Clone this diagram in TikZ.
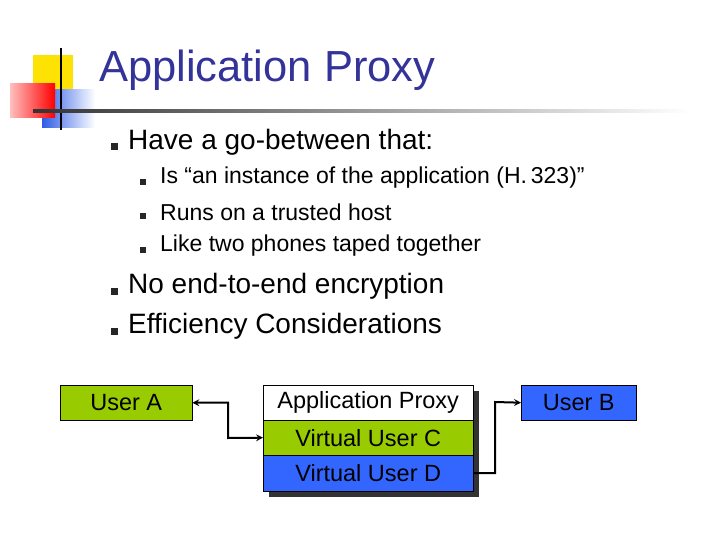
\documentclass[tikz,border=0pt]{standalone}
\usepackage{fontspec}
\setmainfont{Liberation Sans}
\usetikzlibrary{shadings}
\definecolor{titleblue}{RGB}{51,51,153}
\definecolor{boxgreen}{RGB}{153,204,0}
\definecolor{boxblue}{RGB}{51,102,255}
\tikzset{
  userbox/.style={draw=black,minimum width=#1,minimum height=35pt,inner sep=0pt,font=\fontsize{23.5}{26}\selectfont,anchor=north west},
  bul/.style={fill=black!85,minimum size=7pt,inner sep=0pt},
  bulsm/.style={fill=black!85,minimum size=6pt,inner sep=0pt},
  maintext/.style={anchor=west,inner sep=0pt,font=\fontsize{28}{32}\selectfont},
  subtext/.style={anchor=west,inner sep=0pt,font=\fontsize{23}{27}\selectfont},
}
\begin{document}
\begin{tikzpicture}[x=1pt,y=-1pt]
\useasboundingbox (0,0) rectangle (720,540);
% logo
\fill[yellow!85!orange] (33,55) rectangle (73,95);
\shade[left color=boxblue!90!black,right color=white] (42,90) rectangle (95,128);
\shade[left color=red!25,right color=red] (10,84) rectangle (55,118);
\draw[black,line width=1.5pt] (61,48) -- (61,130);
\shade[left color=black!80,right color=white] (33,110) rectangle (690,112.5);
% title
\node[anchor=base west,inner sep=0pt,text=titleblue,font=\fontsize{43.5}{48}\selectfont] (title) at (99,82) {Application Proxy};
% bullets
\node[bul] (b1) at (114,147) {};
\node[maintext] (t1) at (128,142) {Have a go-between that:};
\node[bulsm] (s1) at (143,182) {};
\node[subtext] (u1) at (160,178) {Is “an instance of the application (H.\,323)”};
\node[bulsm] (s2) at (143,216) {};
\node[subtext] (u2) at (160,212) {Runs on a trusted host};
\node[bulsm] (s3) at (143,250) {};
\node[subtext] (u3) at (160,246) {Like two phones taped together};
\node[bul] (b2) at (114,291) {};
\node[maintext] (t2) at (128,286) {No end-to-end encryption};
\node[bul] (b3) at (114,331) {};
\node[maintext] (t3) at (128,326) {Efficiency Considerations};
% boxes
\fill[black!80] (269,391) rectangle (479,497);
\node[userbox=132pt,fill=boxgreen] (ua) at (60,385) {User A};
\node[userbox=210pt,fill=white] (ap) at (263,385) {Application Proxy};
\node[userbox=210pt,fill=boxgreen] (vc) at (263,420) {Virtual User C};
\node[userbox=210pt,fill=boxblue,minimum height=36pt] (vd) at (263,455) {Virtual User D};
\node[userbox=115pt,fill=boxblue] (ub) at (521,385) {User B};
% connectors
\draw[line width=2pt,<->,>=stealth] (ua.east) -| (228,438) -- (vc.west);
\draw[line width=2pt,->,>=stealth] (vd.east) -| (495,402) -- (ub.west);
\end{tikzpicture}
\end{document}
